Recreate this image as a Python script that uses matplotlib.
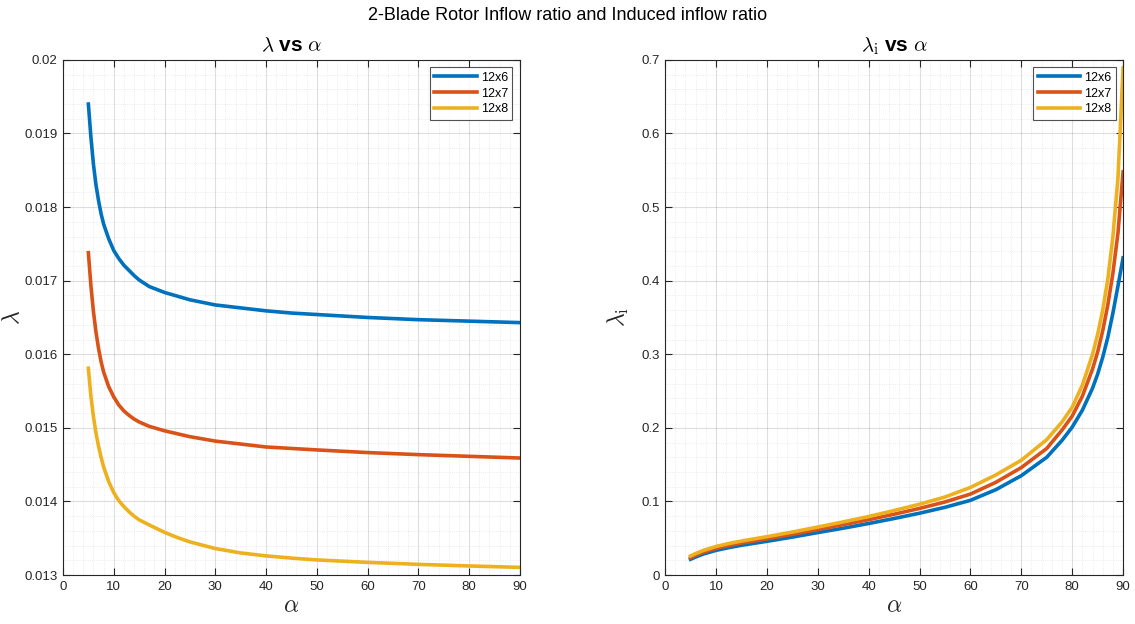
import numpy as np
import matplotlib.pyplot as plt
from matplotlib.ticker import MultipleLocator, FuncFormatter

plt.rcParams['font.family'] = ['Liberation Sans', 'DejaVu Sans']
plt.rcParams['mathtext.fontset'] = 'cm'

# inflow ratio lambda vs angle of attack
alpha_l = [5, 5.5, 6, 6.5, 7, 7.5, 8, 9, 10, 11, 12, 13, 14, 15, 17, 20, 22.5, 25, 30, 35, 40,
           45, 50, 60, 70, 80, 90]
lam_12x6 = [0.01940, 0.01895, 0.01858, 0.01830, 0.01809, 0.01791, 0.01777, 0.01757, 0.01741,
            0.01730, 0.01721, 0.01714, 0.01707, 0.01701, 0.01692, 0.01684, 0.01679, 0.01674,
            0.01667, 0.01663, 0.01659, 0.01656, 0.01654, 0.01650, 0.01647, 0.01645, 0.01643]
lam_12x7 = [0.01738, 0.01693, 0.01658, 0.01630, 0.01608, 0.01590, 0.01576, 0.01556, 0.01542,
            0.01531, 0.01523, 0.01517, 0.01512, 0.01508, 0.01502, 0.01496, 0.01492, 0.01488,
            0.01482, 0.01478, 0.01474, 0.01472, 0.01470, 0.014664, 0.014636, 0.014613, 0.01459]
lam_12x8 = [0.01581, 0.01543, 0.01515, 0.01493, 0.01475, 0.01460, 0.01447, 0.01427, 0.01412,
            0.01401, 0.01393, 0.01386, 0.01380, 0.01375, 0.01368, 0.01358, 0.01351, 0.01345,
            0.01336, 0.01330, 0.01326, 0.01323, 0.013205, 0.013172, 0.013145, 0.013123, 0.013104]

# induced inflow ratio lambda_i vs angle of attack
alpha_r = [5, 6, 7.5, 10, 12.5, 15, 20, 25, 30, 35, 40, 45, 50, 55, 60, 65, 70, 75, 78, 80, 82,
           84, 85, 86, 87, 88, 89, 90]
lami_12x6 = [0.0214, 0.0245, 0.0285, 0.0335, 0.0372, 0.0404, 0.0458, 0.0515, 0.0577, 0.0636,
             0.0700, 0.0768, 0.0840, 0.0920, 0.1015, 0.1160, 0.1350, 0.160, 0.183, 0.201, 0.224,
             0.254, 0.273, 0.296, 0.323, 0.356, 0.393, 0.431]
lami_12x7 = [0.0236, 0.0268, 0.0309, 0.0362, 0.0401, 0.0435, 0.0492, 0.0553, 0.0618, 0.0684,
             0.0752, 0.0826, 0.0905, 0.0993, 0.1100, 0.1260, 0.146, 0.172, 0.197, 0.216, 0.243,
             0.280, 0.303, 0.332, 0.367, 0.410, 0.465, 0.548]
lami_12x8 = [0.0259, 0.0292, 0.0334, 0.0388, 0.0428, 0.0462, 0.0521, 0.0584, 0.0652, 0.0722,
             0.0795, 0.0876, 0.0962, 0.1060, 0.1190, 0.1360, 0.156, 0.184, 0.208, 0.228, 0.258,
             0.300, 0.327, 0.360, 0.402, 0.460, 0.540, 0.689]

labels = ['12x6', '12x7', '12x8']
colors = ['#0072BD', '#D95319', '#EDB120']


def matlab_axes(ax):
    ax.set_xlim(0, 90)
    ax.xaxis.set_major_locator(MultipleLocator(10))
    ax.xaxis.set_minor_locator(MultipleLocator(2))
    ax.grid(which='major', color='#262626', alpha=0.15, linewidth=0.8)
    ax.grid(which='minor', color='#262626', alpha=0.12, linewidth=0.6, linestyle=':')
    ax.tick_params(which='both', direction='in', top=True, right=True, colors='#262626',
                   labelsize=9.5, labelcolor='#262626')
    ax.tick_params(which='major', length=5, pad=4)
    ax.tick_params(which='minor', length=0)
    for s in ax.spines.values():
        s.set_color('#262626')
        s.set_linewidth(0.8)
    ax.set_axisbelow(True)
    ax.set_xlabel(r'$\alpha$', fontsize=17, color='#262626', labelpad=2)


def add_legend(ax):
    leg = ax.legend(loc='upper right', fontsize=9, frameon=True, fancybox=False,
                    edgecolor='#262626', handlelength=3.4, borderaxespad=0.6,
                    labelspacing=0.3, handletextpad=0.3, borderpad=0.35)
    leg.get_frame().set_linewidth(0.8)


fig = plt.figure(figsize=(11.35, 6.24), dpi=100)
ax1 = fig.add_axes([0.0555, 0.0785, 0.4025, 0.8255])
ax2 = fig.add_axes([0.586, 0.0785, 0.4035, 0.8255])

for y, lab, c in zip([lam_12x6, lam_12x7, lam_12x8], labels, colors):
    ax1.plot(alpha_l, y, color=c, linewidth=2.6, label=lab)
matlab_axes(ax1)
ax1.set_ylim(0.013, 0.02)
ax1.yaxis.set_major_locator(MultipleLocator(0.001))
ax1.yaxis.set_minor_locator(MultipleLocator(0.0002))
ax1.yaxis.set_major_formatter(FuncFormatter(lambda v, p: '%g' % round(v, 4)))
ax1.set_ylabel(r'$\lambda$', fontsize=17, color='#262626')
ax1.yaxis.set_label_coords(-0.084, 0.5)
ax1.set_title(r'$\lambda$ vs $\alpha$', fontsize=15, fontweight='bold', color='black', pad=6)
add_legend(ax1)

for y, lab, c in zip([lami_12x6, lami_12x7, lami_12x8], labels, colors):
    ax2.plot(alpha_r, y, color=c, linewidth=2.6, label=lab)
matlab_axes(ax2)
ax2.set_ylim(0, 0.7)
ax2.yaxis.set_major_locator(MultipleLocator(0.1))
ax2.yaxis.set_minor_locator(MultipleLocator(0.02))
ax2.yaxis.set_major_formatter(FuncFormatter(lambda v, p: '%g' % round(v, 2)))
ax2.set_ylabel(r'$\lambda_\mathrm{i}$', fontsize=17, color='#262626')
ax2.yaxis.set_label_coords(-0.075, 0.5)
ax2.set_title(r'$\lambda_\mathrm{i}$ vs $\alpha$', fontsize=15, fontweight='bold', color='black', pad=6)
add_legend(ax2)

fig.suptitle('2-Blade Rotor Inflow ratio and Induced inflow ratio', fontsize=13, y=0.988)

fig.savefig('out.png', dpi=100)
